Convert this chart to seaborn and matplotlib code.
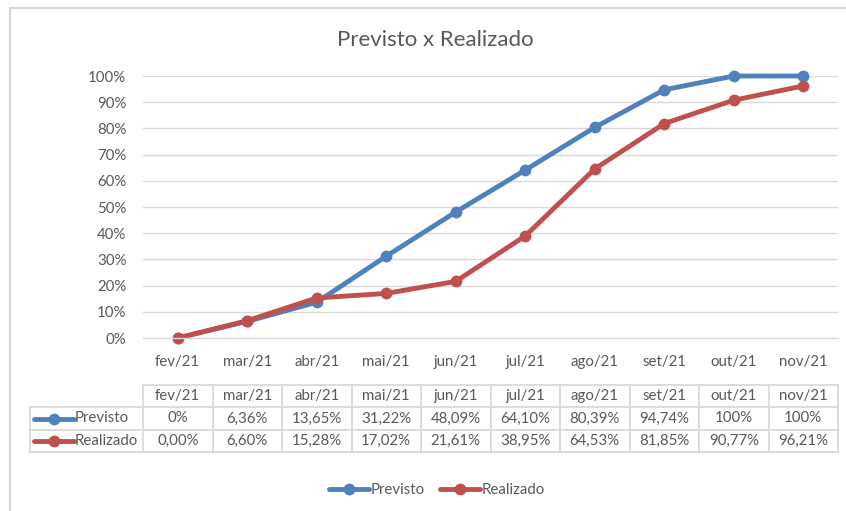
import matplotlib
matplotlib.use('Agg')
import matplotlib.pyplot as plt
from matplotlib.lines import Line2D
import seaborn as sns
import pandas as pd

# Dados
meses = ['fev/21', 'mar/21', 'abr/21', 'mai/21', 'jun/21', 'jul/21',
         'ago/21', 'set/21', 'out/21', 'nov/21']
previsto = [0.0, 6.36, 13.65, 31.22, 48.09, 64.10, 80.39, 94.74, 100.0, 100.0]
realizado = [0.00, 6.60, 15.28, 17.02, 21.61, 38.95, 64.53, 81.85, 90.77, 96.21]
previsto_txt = ['0%', '6,36%', '13,65%', '31,22%', '48,09%', '64,10%',
                '80,39%', '94,74%', '100%', '100%']
realizado_txt = ['0,00%', '6,60%', '15,28%', '17,02%', '21,61%', '38,95%',
                 '64,53%', '81,85%', '90,77%', '96,21%']
series = ['Previsto', 'Realizado']
cores = {'Previsto': '#4F81BD', 'Realizado': '#C0504D'}

df = pd.DataFrame({
    'mes': meses * 2,
    'valor': [v / 100 for v in previsto + realizado],
    'serie': ['Previsto'] * len(meses) + ['Realizado'] * len(meses),
})

sns.set_theme(style='white')
plt.rcParams['font.family'] = ['Lato', 'DejaVu Sans']
TXT = '#595959'
GRID = '#D9D9D9'
FS = 10.8

W, H = 846, 511
fig = plt.figure(figsize=(W / 100, H / 100), dpi=100)


def px_axes(x0, y0, x1, y1):
    return fig.add_axes([x0 / W, 1 - y1 / H, (x1 - x0) / W, (y1 - y0) / H])


# moldura do gráfico
fig.add_artist(Line2D([10 / W, 10 / W], [0, 1 - 8 / H], color=GRID, lw=1.6))
fig.add_artist(Line2D([10 / W, 1], [1 - 8 / H, 1 - 8 / H], color=GRID, lw=1.6))

ax = px_axes(143, 76, 838, 338)
sns.lineplot(data=df, x='mes', y='valor', hue='serie', palette=cores,
             marker='o', markersize=8.5, markeredgewidth=0, linewidth=3.5,
             sort=False, legend=False, ax=ax)
for ln in ax.lines:
    ln.set_clip_on(False)
ax.set_xlim(-0.5, len(meses) - 0.5)
ax.set_ylim(0, 1)
ax.set_yticks([i / 10 for i in range(11)])
ax.set_yticklabels([f'{i * 10}%' for i in range(11)])
ax.yaxis.grid(True, color=GRID, lw=1)
ax.set_axisbelow(True)
for s in ['top', 'right', 'left']:
    ax.spines[s].set_visible(False)
ax.spines['bottom'].set_color(GRID)
ax.spines['bottom'].set_linewidth(1)
ax.set_xticks(range(len(meses)))
ax.set_xticklabels(meses)
ax.set_xticks([i - 0.5 for i in range(len(meses) + 1)], minor=True)
ax.tick_params(axis='x', which='major', length=0, pad=12, labelsize=FS, labelcolor=TXT)
ax.tick_params(axis='x', which='minor', length=5, width=1, color=GRID, direction='out')
ax.tick_params(axis='y', length=0, pad=12, labelsize=FS, labelcolor=TXT)
ax.set_xlabel('')
ax.set_ylabel('')
fig.text(435 / W, 1 - 40 / H, 'Previsto x Realizado', fontsize=16, color=TXT,
         ha='center', va='center')

# tabela de dados
tab = px_axes(143, 385, 838, 452)
tab.set_xlim(-0.5, len(meses) - 0.5)
tab.set_ylim(3, 0)
tab.axis('off')
px_unit = (838 - 143) / len(meses)
lab_left = -0.5 - (143 - 30) / px_unit
n = len(meses)
kw = dict(color=GRID, lw=1.3, clip_on=False)
tab.plot([-0.5, n - 0.5], [0, 0], **kw)
for r in [1, 2, 3]:
    tab.plot([lab_left, n - 0.5], [r, r], **kw)
for k in range(n + 1):
    tab.plot([k - 0.5, k - 0.5], [0, 3], **kw)
tab.plot([lab_left, lab_left], [1, 3], **kw)
for i, m in enumerate(meses):
    tab.text(i, 0.5, m, ha='center', va='center', fontsize=FS, color=TXT)
    tab.text(i, 1.5, previsto_txt[i], ha='center', va='center', fontsize=FS, color=TXT)
    tab.text(i, 2.5, realizado_txt[i], ha='center', va='center', fontsize=FS, color=TXT)
for r, s in zip([1.5, 2.5], series):
    x0 = lab_left + 4 / px_unit
    x1 = lab_left + 44 / px_unit
    tab.add_line(Line2D([x0, x1], [r, r], color=cores[s], lw=3.5, clip_on=False))
    tab.add_line(Line2D([(x0 + x1) / 2], [r], color=cores[s], marker='o',
                        markersize=8.5, markeredgewidth=0, clip_on=False))
    tab.text(x1 + 1 / px_unit, r, s, ha='left', va='center', fontsize=FS, color=TXT)

# legenda
handles = [Line2D([0], [0], color=cores[s], lw=3.5, marker='o', markersize=8.5,
                  markeredgewidth=0) for s in series]
fig.legend(handles, series, loc='center', bbox_to_anchor=(437 / W, 1 - 490 / H),
           ncol=2, frameon=False, fontsize=FS, labelcolor=TXT,
           handlelength=2.7, handletextpad=0.1, columnspacing=1.0)

fig.savefig('out.png', dpi=100)
